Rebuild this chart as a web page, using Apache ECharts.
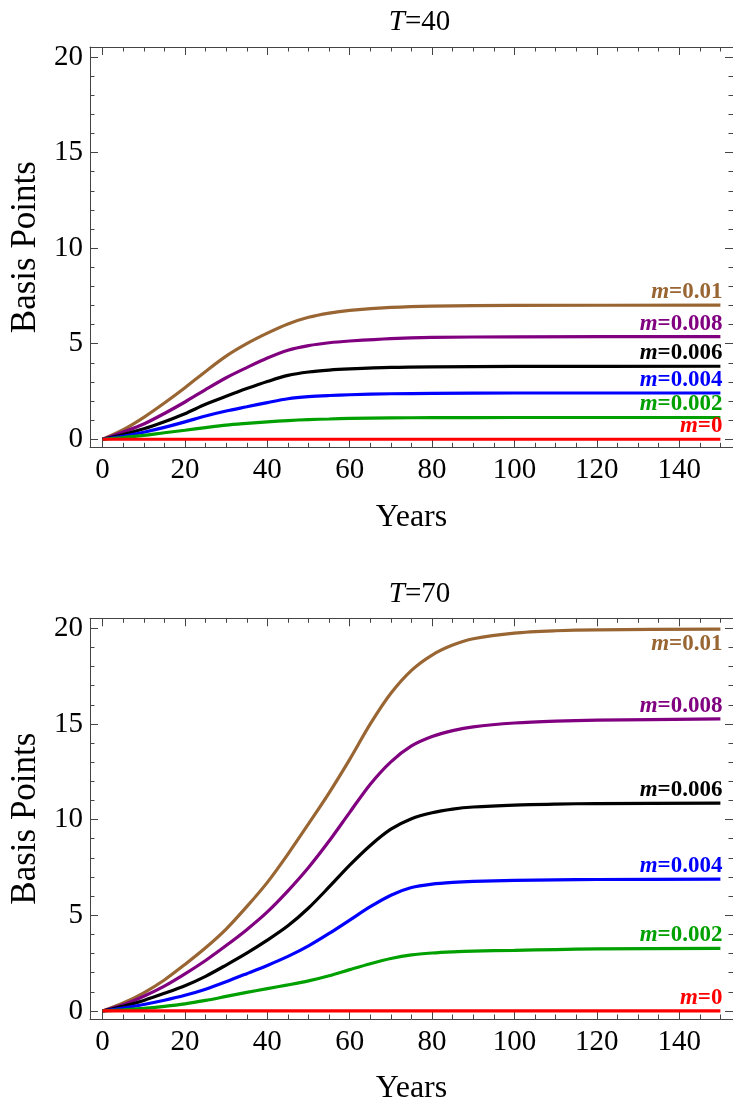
<!DOCTYPE html>
<html>
<head>
<meta charset="utf-8">
<script src="https://cdn.jsdelivr.net/npm/echarts@6/dist/echarts.min.js"></script>
<style>
html,body{margin:0;padding:0;background:#fff;}
#chart{width:733px;height:1106px;}
</style>
</head>
<body>
<div id="chart"></div>
<script>
// ---- data ----
const xT40 = [0,5,10,15,20,25,30,35,40,45,50,55,60,70,80,100,150];
const t40_m010 = [0,0.50,1.15,1.90,2.70,3.55,4.35,5.00,5.55,6.03,6.38,6.60,6.74,6.90,6.97,7.00,7.02];
const t40_m008 = [0,0.38,0.80,1.35,1.95,2.60,3.22,3.75,4.25,4.66,4.90,5.05,5.14,5.27,5.33,5.36,5.37];
const t40_m006 = [0,0.25,0.55,0.92,1.34,1.83,2.25,2.65,3.02,3.34,3.52,3.62,3.68,3.76,3.79,3.81,3.82];
const t40_m004 = [0,0.16,0.37,0.62,0.91,1.22,1.48,1.70,1.92,2.12,2.23,2.29,2.33,2.38,2.40,2.42,2.42];
const t40_m002 = [0,0.09,0.20,0.34,0.47,0.61,0.74,0.83,0.91,0.98,1.03,1.06,1.09,1.12,1.13,1.14,1.14];
const t40_m000 = [0,0,0,0,0,0,0,0,0,0,0,0,0,0,0,0,0];

const xT70 = [0,5,10,15,20,25,30,35,40,45,50,55,60,65,70,75,80,85,90,100,110,120,150];
const t70_m010 = [0,0.42,0.95,1.62,2.43,3.30,4.28,5.45,6.72,8.20,9.78,11.40,13.15,15.00,16.60,17.80,18.60,19.12,19.45,19.75,19.87,19.92,19.95];
const t70_m008 = [0,0.32,0.77,1.30,1.94,2.64,3.42,4.25,5.18,6.28,7.50,8.88,10.38,11.85,13.02,13.85,14.34,14.65,14.85,15.05,15.15,15.20,15.26];
const t70_m006 = [0,0.24,0.55,0.92,1.32,1.81,2.40,3.02,3.70,4.45,5.38,6.48,7.62,8.65,9.50,10.05,10.36,10.55,10.66,10.76,10.81,10.84,10.86];
const t70_m004 = [0,0.15,0.34,0.56,0.82,1.14,1.53,1.95,2.38,2.85,3.40,4.05,4.75,5.45,6.05,6.45,6.63,6.72,6.77,6.82,6.85,6.87,6.89];
const t70_m002 = [0,0.06,0.14,0.24,0.37,0.55,0.76,0.97,1.17,1.36,1.57,1.84,2.16,2.47,2.74,2.93,3.03,3.09,3.13,3.17,3.21,3.24,3.27];
const t70_m000 = [0,0,0,0,0,0,0,0,0,0,0,0,0,0,0,0,0,0,0,0,0,0,0];

const mLabels = ['0.01','0.008','0.006','0.004','0.002','0'];
const colors = ['#996633','#800080','#000000','#0000FF','#00A000','#FF0000'];
const panelTitles = ['40','70'];
const xMajor = [0,20,40,60,80,100,120,140];
const xMinor = [5,10,15,25,30,35,45,50,55,65,70,75,85,90,95,105,110,115,125,130,135,145,150];
const yMajor = [0,5,10,15,20];
const yMinor = [1,2,3,4,6,7,8,9,11,12,13,14,16,17,18,19];

// ---- layout ----
const FONT = "Liberation Serif";
const frameColor = '#444';
const panels = [
  {x: xT40, ys: [t40_m010,t40_m008,t40_m006,t40_m004,t40_m002,t40_m000], grid:{left:90,width:649,top:47,height:400.3}, titleTop:3, labelOffsets:[[2,-13],[2,-13],[2,-13],[2,-13],[2,-13],[2,-13]]},
  {x: xT70, ys: [t70_m010,t70_m008,t70_m006,t70_m004,t70_m002,t70_m000], grid:{left:90,width:649,top:618.3,height:400.7}, titleTop:575, labelOffsets:[[2,15],[2,-13],[2,-13],[2,-13],[2,-13],[2,-13]]}
];

const grids = [], xAxes = [], yAxes = [], series = [], titles = [];
function tickAxis(kind, gi, pos, values, len, withLine) {
  const o = {
    gridIndex: gi, type:'value', position:pos, offset:0,
    splitLine:{show:false},
    axisLine:{show:withLine, onZero:false, lineStyle:{color:frameColor, width:1}},
    axisTick:{show:true, inside:true, length:len, customValues:values, lineStyle:{color:frameColor, width:1}},
    axisLabel:{show:false}
  };
  if (kind === 'x') { o.min = -3.06; o.max = 153.06; } else { o.min = -0.42; o.max = 20.52; }
  return o;
}
panels.forEach((p, pi) => {
  const g0 = grids.length;
  for (let k = 0; k < 4; k++) grids.push(Object.assign({show:false}, p.grid));
  const xi = xAxes.length, yi = yAxes.length;
  const xb = tickAxis('x', g0, 'bottom', xMajor, 8, true);
  xb.axisLabel = {show:true, customValues:xMajor, margin:9, fontFamily:FONT, fontSize:29, color:'#000'};
  xb.name = 'Years'; xb.nameLocation = 'middle'; xb.nameGap = 54;
  xb.nameTextStyle = {fontFamily:FONT, fontSize:32, color:'#000'};
  const yl = tickAxis('y', g0, 'left', yMajor, 8, true);
  yl.axisLabel = {show:true, customValues:yMajor, margin:7, fontFamily:FONT, fontSize:29, color:'#000'};
  yl.name = 'Basis Points'; yl.nameLocation = 'middle'; yl.nameGap = 43; yl.nameRotate = 90;
  yl.nameTextStyle = {fontFamily:FONT, fontSize:35, color:'#000'};
  xAxes.push(xb); yAxes.push(yl);
  xAxes.push(tickAxis('x', g0+1, 'bottom', xMinor, 4.5, false));
  yAxes.push(tickAxis('y', g0+1, 'left', yMinor, 4.5, false));
  xAxes.push(tickAxis('x', g0+2, 'top', xMajor, 8, true));
  yAxes.push(tickAxis('y', g0+2, 'right', yMajor, 8, true));
  xAxes.push(tickAxis('x', g0+3, 'top', xMinor, 4.5, false));
  yAxes.push(tickAxis('y', g0+3, 'right', yMinor, 4.5, false));

  titles.push({
    text:'{i|T}{n|=' + panelTitles[pi] + '}',
    left:414.5, textAlign:'center', top:p.titleTop,
    textStyle:{
      fontFamily:FONT, fontSize:29, fontWeight:'normal', color:'#000',
      rich:{
        i:{fontFamily:FONT, fontSize:29, fontStyle:'italic', color:'#000'},
        n:{fontFamily:FONT, fontSize:29, color:'#000'}
      }
    }
  });

  p.ys.forEach((ys, si) => {
    const data = p.x.map((x, i) => {
      const item = {value:[x, ys[i]]};
      if (i === p.x.length - 1) {
        item.label = {
          show:true, position:'left', distance:0, offset:p.labelOffsets[si],
          formatter:'{i|m}{b|=' + mLabels[si] + '}',
          color:colors[si],
          rich:{
            i:{fontFamily:FONT, fontSize:23, fontStyle:'italic', fontWeight:'bold', color:colors[si]},
            b:{fontFamily:FONT, fontSize:23, fontWeight:'bold', color:colors[si]}
          }
        };
      }
      return item;
    });
    series.push({
      type:'line', xAxisIndex:xi, yAxisIndex:yi, data:data,
      smooth:0.3, clip:false,
      showSymbol:true, showAllSymbol:true, symbol:'circle', symbolSize:0,
      lineStyle:{color:colors[si], width:3.2}, itemStyle:{color:colors[si]},
      label:{show:false}, emphasis:{disabled:true}, silent:true, animation:false
    });
  });
});

const chart = echarts.init(document.getElementById('chart'), null, {renderer:'canvas'});
chart.setOption({
  backgroundColor:'#fff', animation:false,
  title:titles, grid:grids, xAxis:xAxes, yAxis:yAxes, series:series
});
</script>
</body>
</html>
